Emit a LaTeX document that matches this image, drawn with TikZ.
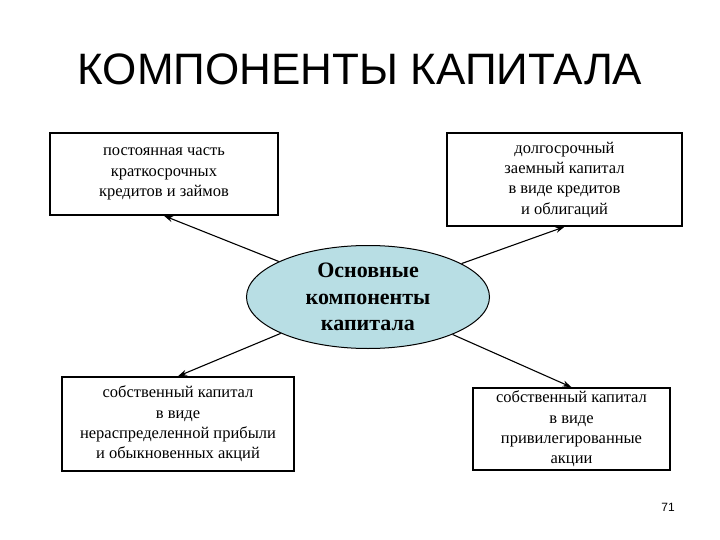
\documentclass[tikz,border=0pt]{standalone}
\usepackage{fontspec}
\setmainfont{Liberation Serif}
\newfontfamily\titlefont{Liberation Sans}
\usepackage{xcolor}
\usetikzlibrary{positioning, arrows.meta, calc, shapes.geometric}

\definecolor{corefill}{RGB}{184,222,228}

\begin{document}
\begin{tikzpicture}[
  x=1pt, y=-1pt,
  every node/.style={font=\fontsize{16.5}{20.3}\selectfont},
  arr/.style={-{Stealth[length=9pt, width=6pt]}, line width=1.1pt},
  part/.style={draw, line width=1.6pt, align=center, inner sep=2pt},
  core/.style={ellipse, draw, fill=corefill, line width=1pt, align=center,
               minimum width=243pt, minimum height=103pt, inner sep=0pt,
               font=\fontsize{22}{26.5}\selectfont\bfseries}
]
\useasboundingbox (0,0) rectangle (720,540);

% ---- Title ----
\node[font=\titlefont\fontsize{44}{50}\selectfont] (title) at (360,69)
  {КОМПОНЕНТЫ КАПИТАЛА};

% ---- Centre ----
\node[core] (capital) at (368,297) {Основные\\компоненты\\капитала};

% ---- Four components ----
\node[part, minimum width=228pt, minimum height=82pt] (shortterm) at (164,174)
  {постоянная часть\\краткосрочных\\кредитов и займов};
\node[part, minimum width=235pt, minimum height=93pt] (longterm) at (564.5,179.5)
  {долгосрочный\\заемный капитал\\в виде кредитов\\и облигаций};
\node[part, minimum width=232pt, minimum height=94pt] (retained) at (178,424)
  {собственный капитал\\в виде\\нераспределенной прибыли\\и обыкновенных акций};
\node[part, minimum width=197pt, minimum height=82pt] (preferred) at (571.5,429)
  {собственный капитал\\в виде\\привилегированные\\акции};

% ---- Arrows ----
\draw[arr] (capital) -- (shortterm.south);
\draw[arr] (capital) -- (longterm.south);
\draw[arr] (capital) -- (retained.north);
\draw[arr] (capital) -- (preferred.north);

% ---- Page number ----
\node[font=\titlefont\fontsize{12}{14}\selectfont] (page) at (668,507) {71};

\end{tikzpicture}
\end{document}
